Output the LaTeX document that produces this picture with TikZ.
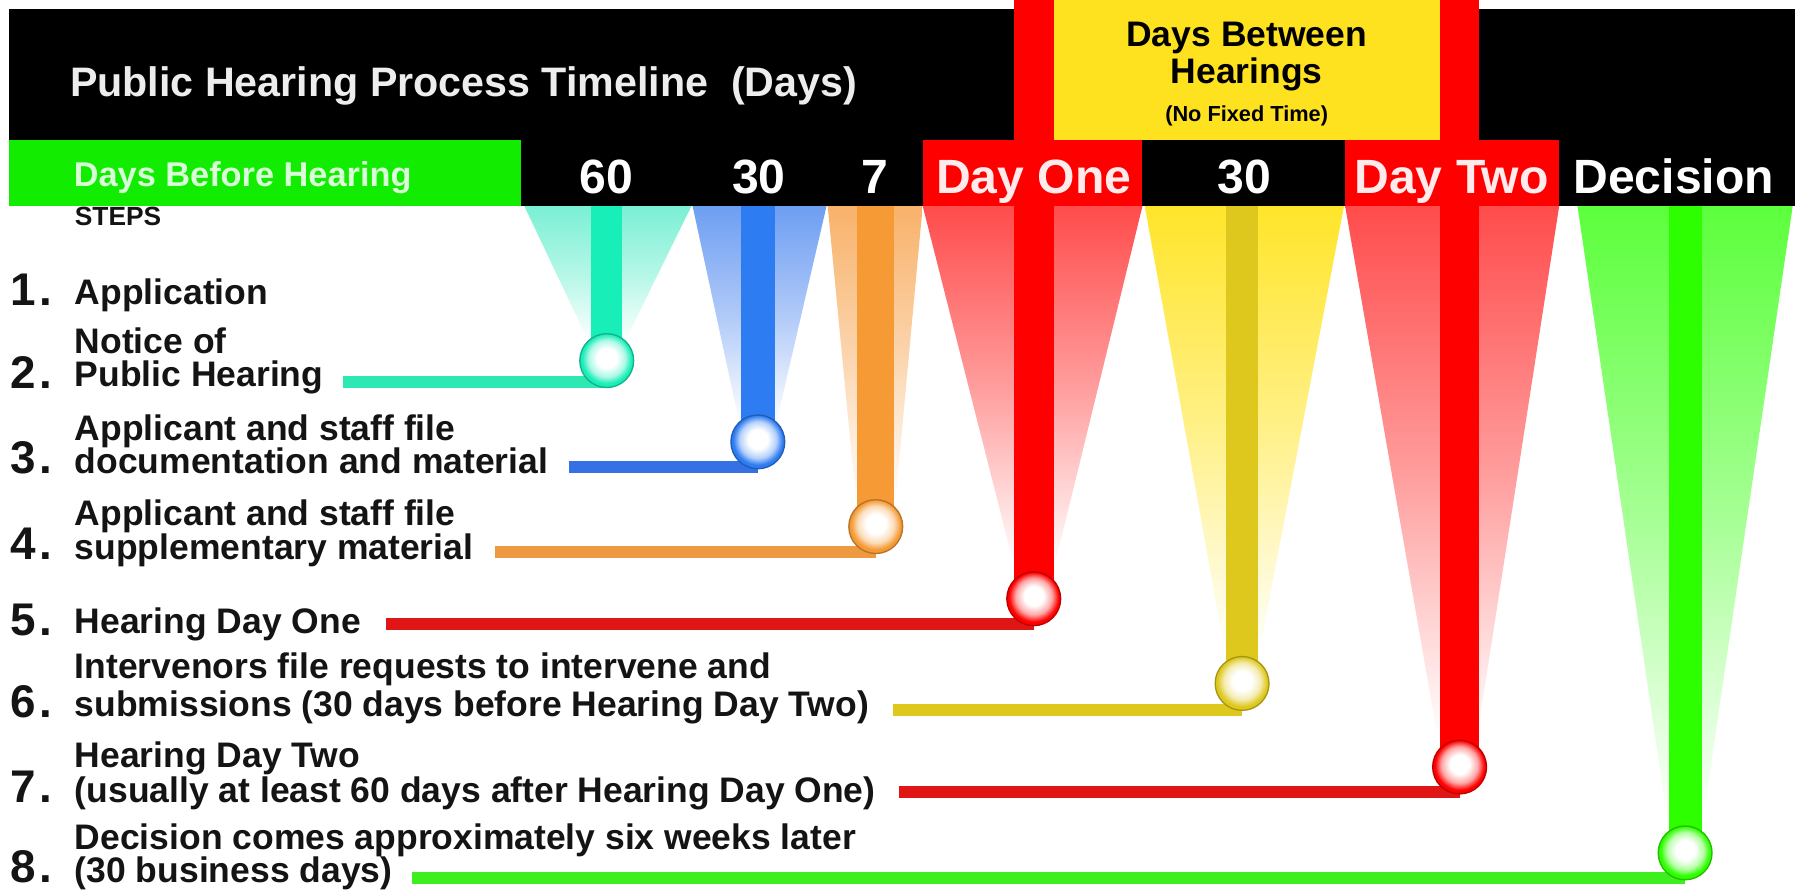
\documentclass[tikz,border=0pt]{standalone}
\usepackage{fontspec}
\setmainfont{Liberation Sans}
\definecolor{hgreen}{HTML}{12EC00}
\definecolor{hyellow}{HTML}{FFE21F}
\definecolor{hred}{HTML}{FF0000}
\definecolor{cteal}{HTML}{18EEB8}
\definecolor{ctealh}{HTML}{2EE8B4}
\definecolor{ctealw}{HTML}{7AF0D4}
\definecolor{cblue}{HTML}{2E7CF2}
\definecolor{cblueh}{HTML}{3570E4}
\definecolor{cbluew}{HTML}{6E9EF2}
\definecolor{corange}{HTML}{F59A35}
\definecolor{corangeh}{HTML}{EE9A42}
\definecolor{corangew}{HTML}{F8B26A}
\definecolor{credh}{HTML}{E01616}
\definecolor{credw}{HTML}{FF4C4C}
\definecolor{cyel}{HTML}{DEC81E}
\definecolor{cyelw}{HTML}{FFE52A}
\definecolor{cgreen}{HTML}{2EFF00}
\definecolor{cgreenh}{HTML}{3EEE1E}
\definecolor{cgreenw}{HTML}{5CFF3C}
\colorlet{pincol}{red}
\pgfdeclareradialshading[pincol]{pinshade}{\pgfpoint{0bp}{3bp}}{%
  color(0bp)=(white); color(9bp)=(white); color(17bp)=(pincol!35!white);
  color(23bp)=(pincol); color(50bp)=(pincol)}
\begin{document}
\begin{tikzpicture}[x=0.5pt,y=-0.5pt,
  bigtxt/.style={font=\bfseries\fontsize{21}{24}\selectfont, text=white, inner sep=0, anchor=base},
  steptxt/.style={font=\bfseries\fontsize{15.5}{18}\selectfont, text=black!92, inner sep=0, anchor=base west},
  stepnum/.style={font=\bfseries\fontsize{20}{22}\selectfont, text=black!92, inner sep=0, anchor=base west},
  hline/.style={line width=5.2pt},
  vline/.style={line width=#1},
  pin/.style={circle, minimum size=23.5pt, inner sep=0,
    /utils/exec={\colorlet{pincol}{#1}}, shading=pinshade, shade,
    draw=#1!75!black, line width=0.6pt},
  wedge/.style={top color=#1, bottom color=white, middle color=#1!55!white},
]
\useasboundingbox (0,0) rectangle (1568,780);
\fill[white] (0,0) rectangle (1568,780);
% ---------- header ----------
\fill[black] (8,8) rectangle (1568,180);
\fill[hyellow] (920,0) rectangle (1258,122);
\fill[hgreen] (8,122) rectangle (455,180);
\fill[hred] (806,122) rectangle (998,180);
\fill[hred] (1175,122) rectangle (1362,180);
% ---------- wedges ----------
\shade[wedge=ctealw] (458,180) -- (604,180) -- (545,300) -- (515,300) -- cycle;
\shade[wedge=cbluew] (605,180) -- (722,180) -- (678,370) -- (646,370) -- cycle;
\shade[wedge=corangew] (723,180) -- (806,180) -- (782,440) -- (748,440) -- cycle;
\shade[wedge=credw] (806,180) -- (998,180) -- (921,495) -- (886,495) -- cycle;
\shade[wedge=cyelw] (1000,180) -- (1174,180) -- (1099,575) -- (1071,575) -- cycle;
\shade[wedge=credw] (1175,180) -- (1362,180) -- (1290,645) -- (1256,645) -- cycle;
\shade[wedge=cgreenw] (1378,180) -- (1566,180) -- (1487,720) -- (1457,720) -- cycle;
% ---------- pin coordinates ----------
\coordinate (t2) at (530,180);  \coordinate (c2) at (530,315);
\coordinate (t3) at (662,180);  \coordinate (c3) at (662,386);
\coordinate (t4) at (765,180);  \coordinate (c4) at (765,460);
\coordinate (t5) at (903,0);    \coordinate (c5) at (903,523);
\coordinate (t6) at (1085,180); \coordinate (c6) at (1085,597);
\coordinate (t7) at (1275,0);   \coordinate (c7) at (1275,670);
\coordinate (t8) at (1472,180); \coordinate (c8) at (1472,745);
\coordinate (h2) at (300,334);
\coordinate (h3) at (497,408);
\coordinate (h4) at (432,482);
\coordinate (h5) at (337,545);
\coordinate (h6) at (780,620);
\coordinate (h7) at (785,692);
\coordinate (h8) at (360,767);
% ---------- vertical stems ----------
\draw[vline=13.5pt, cteal] (t2) -- (c2);
\draw[vline=15pt, cblue] (t3) -- (c3);
\draw[vline=16pt, corange] (t4) -- (c4);
\draw[vline=17.5pt, hred] (t5) -- (c5);
\draw[vline=14pt, cyel] (t6) -- (c6);
\draw[vline=17pt, hred] (t7) -- (c7);
\draw[vline=14.5pt, cgreen] (t8) -- (c8);
% ---------- horizontal leaders ----------
\draw[hline, ctealh] (h2) -- (h2 -| c2);
\draw[hline, cblueh] (h3) -- (h3 -| c3);
\draw[hline, corangeh] (h4) -- (h4 -| c4);
\draw[hline, credh] (h5) -- (h5 -| c5);
\draw[hline, cyel] (h6) -- (h6 -| c6);
\draw[hline, credh] (h7) -- (h7 -| c7);
\draw[hline, cgreenh] (h8) -- (h8 -| c8);
% ---------- pins ----------
\node[pin=cteal] (p2) at (c2) {};
\node[pin=cblue] (p3) at (c3) {};
\node[pin=corange] (p4) at (c4) {};
\node[pin=hred] (p5) at (c5) {};
\node[pin=cyel] (p6) at (c6) {};
\node[pin=hred] (p7) at (c7) {};
\node[pin=cgreen] (p8) at (c8) {};
% ---------- header text ----------
\node[font=\bfseries\fontsize{18}{20}\selectfont, text=black!7, inner sep=0, anchor=base] (title) at (405,84) {Public Hearing Process Timeline\ \ (Days)};
\node[font=\bfseries\fontsize{15.5}{18}\selectfont, inner sep=0, anchor=base] (db1) at (1089,41) {Days Between};
\node[font=\bfseries\fontsize{15.5}{18}\selectfont, inner sep=0, anchor=base] (db2) at (1089,73) {Hearings};
\node[font=\bfseries\fontsize{9.5}{11}\selectfont, inner sep=0, anchor=base] (db3) at (1089,106) {(No Fixed Time)};
\node[font=\bfseries\fontsize{15}{18}\selectfont, text=green!15!white, inner sep=0, anchor=base] (dbh) at (212,163) {Days Before Hearing};
\node[bigtxt] (d60) at (530,169) {60};
\node[bigtxt] (d30) at (663,169) {30};
\node[bigtxt] (d7) at (764,169) {7};
\node[bigtxt, text=red!8!white] (dayone) at (903,169) {Day One};
\node[bigtxt] (d30b) at (1087,169) {30};
\node[bigtxt, text=red!8!white] (daytwo) at (1268,169) {Day Two};
\node[bigtxt] (decision) at (1462,169) {Decision};
% ---------- steps ----------
\node[font=\bfseries\fontsize{11.5}{13}\selectfont, text=black!92, inner sep=0, anchor=base west] (steps) at (65,197) {STEPS};
\node[stepnum] (n1) at (9,267) {1\kern1.5pt.};
\node[steptxt] (s1) at (65,266) {Application};
\node[stepnum] (n2) at (9,339) {2\kern1.5pt.};
\node[steptxt] (s2a) at (65,309) {Notice of};
\node[steptxt] (s2b) at (65,338) {Public Hearing};
\node[stepnum] (n3) at (9,414) {3\kern1.5pt.};
\node[steptxt] (s3a) at (65,385) {Applicant and staff file};
\node[steptxt] (s3b) at (65,414) {documentation and material};
\node[stepnum] (n4) at (9,489) {4\kern1.5pt.};
\node[steptxt] (s4a) at (65,459) {Applicant and staff file};
\node[steptxt] (s4b) at (65,489) {supplementary material};
\node[stepnum] (n5) at (9,555) {5\kern1.5pt.};
\node[steptxt] (s5) at (65,553) {Hearing Day One};
\node[stepnum] (n6) at (9,627) {6\kern1.5pt.};
\node[steptxt] (s6a) at (65,593) {Intervenors file requests to intervene and};
\node[steptxt] (s6b) at (65,626) {submissions (30 days before Hearing Day Two)};
\node[stepnum] (n7) at (9,701) {7\kern1.5pt.};
\node[steptxt] (s7a) at (65,670) {Hearing Day Two};
\node[steptxt] (s7b) at (65,701) {(usually at least 60 days after Hearing Day One)};
\node[stepnum] (n8) at (9,771) {8\kern1.5pt.};
\node[steptxt] (s8a) at (65,742) {Decision comes approximately six weeks later};
\node[steptxt] (s8b) at (65,771) {(30 business days)};
\end{tikzpicture}
\end{document}
